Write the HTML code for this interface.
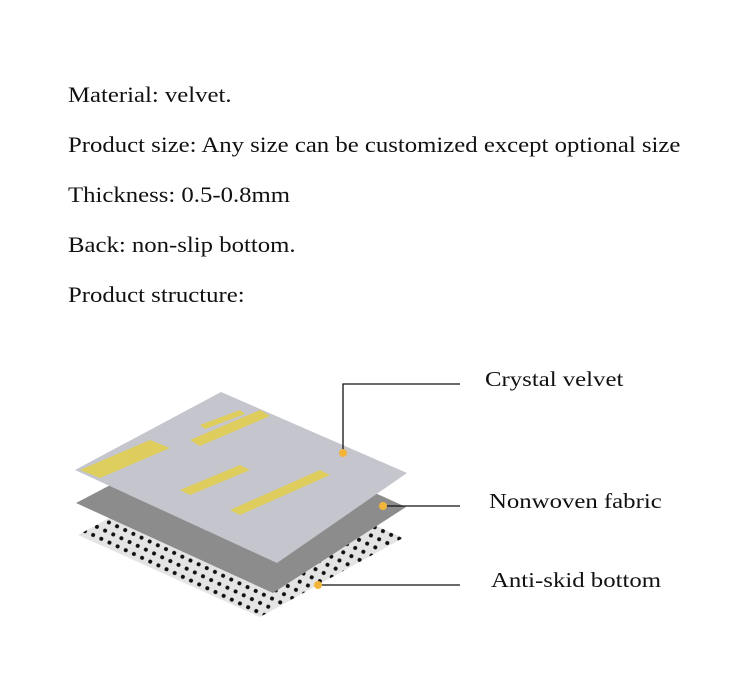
<!DOCTYPE html>
<html><head><meta charset="utf-8"><style>
body{margin:0;background:#fff;width:750px;height:673px;overflow:hidden;position:relative;font-family:"Liberation Serif",serif;color:#111}
.t{position:absolute;left:68px;font-size:22px;white-space:nowrap;transform:scaleX(1.125);transform-origin:0 0}
.l{position:absolute;font-size:21px;white-space:nowrap;transform:scaleX(1.18);transform-origin:0 0}
svg{position:absolute;left:0;top:0}
</style></head><body>
<div class="t" style="top:82px">Material: velvet.</div>
<div class="t" style="top:132px">Product size: Any size can be customized except optional size</div>
<div class="t" style="top:182px">Thickness: 0.5-0.8mm</div>
<div class="t" style="top:232px">Back: non-slip bottom.</div>
<div class="t" style="top:282px">Product structure:</div>
<svg width="750" height="673">
<defs>
<pattern id="dots" width="9" height="9" patternUnits="userSpaceOnUse" patternTransform="rotate(25)">
<rect width="9" height="9" fill="#e4e4e4"/><circle cx="4.5" cy="4.5" r="2" fill="#111"/></pattern>
</defs>
<polygon points="78,535 225,455 403,538 260,617" fill="url(#dots)"/>
<polygon points="76,503 225,425 406,507 273,593" fill="#8c8c8c"/>
<polygon points="75,470 221,392 407,473 277,563" fill="#c4c5cd"/>
<g fill="#e3cf4a" opacity="0.85">
<polygon points="80,470 150,440 170,448 100,478"/>
<polygon points="190,440 260,410 270,416 200,446"/>
<polygon points="180,490 240,465 250,470 190,495"/>
<polygon points="230,510 320,470 330,475 240,515"/>
<polygon points="200,425 240,410 245,414 205,429"/>
</g>
<g stroke="#111" stroke-width="1.3" fill="none">
<polyline points="343,453 343,384 460,384"/>
<line x1="383" y1="506" x2="460" y2="506"/>
<line x1="318" y1="585" x2="460" y2="585"/>
</g>
<g fill="#f2b53a"><circle cx="343" cy="453" r="4"/><circle cx="383" cy="506" r="4"/><circle cx="318" cy="585" r="4"/></g>
</svg>
<div class="l" style="left:485px;top:367px">Crystal velvet</div>
<div class="l" style="left:489px;top:489px">Nonwoven fabric</div>
<div class="l" style="left:491px;top:568px">Anti-skid bottom</div>
</body></html>
